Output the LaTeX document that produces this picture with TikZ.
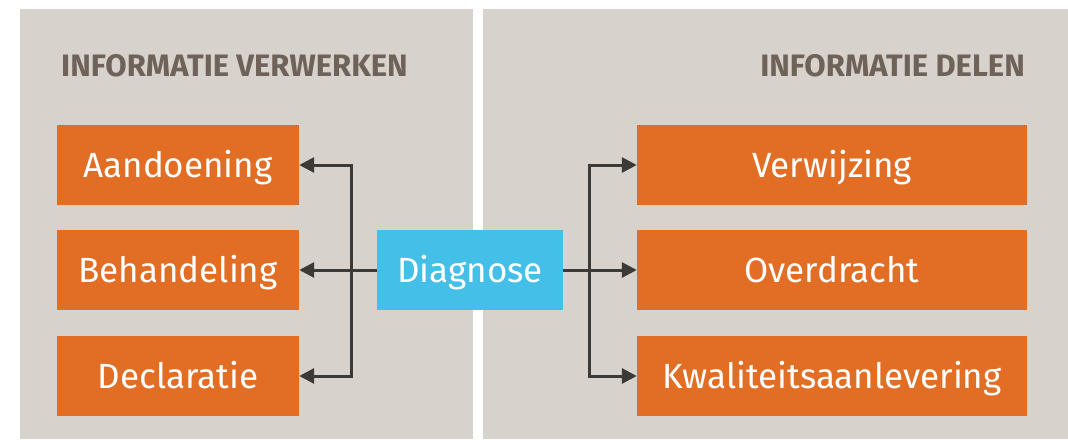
\documentclass[tikz,border=0pt]{standalone}
\usepackage{fontspec}
\setmainfont{Fira Sans}
\usepackage{tikz}
\usetikzlibrary{calc,positioning,arrows.meta}

\definecolor{panelgrey}{HTML}{D7D2CC}
\definecolor{boxorange}{HTML}{E26D24}
\definecolor{diagblue}{HTML}{44BFE8}
\definecolor{linedark}{HTML}{3C3A36}
\definecolor{titlebrown}{HTML}{6E6259}

\tikzset{
	panel/.style={fill=panelgrey, draw=none},
	infobox/.style={fill=boxorange, text=white, inner sep=0pt, minimum height=80pt, text height=24pt, text depth=0pt, font=\fontsize{35}{40}\selectfont},
	title/.style={text=titlebrown, inner sep=0pt, font=\fontsize{31}{36}\selectfont\bfseries},
	arr/.style={draw=linedark, line width=3pt, -{Triangle[length=15pt,width=15pt]}}
}

\begin{document}
\begin{tikzpicture}[x=1pt,y=-1pt]
		\useasboundingbox (0,0) rectangle (1068,439);
		\fill[white] (0,0) rectangle (1068,439);
		\fill[panel] (20,9) rectangle (473,439);
		\fill[panel] (483,9) rectangle (1068,439);

		\node[title, anchor=base west] (lefttitle) at (61,76) {INFORMATIE VERWERKEN};
		\node[title, anchor=base east] (righttitle) at (1025,76) {INFORMATIE DELEN};

		\node[infobox, minimum width=242pt] (aand) at (178,165) {Aandoening};
		\node[infobox, minimum width=242pt] (beh) at (178,270) {Behandeling};
		\node[infobox, minimum width=242pt] (decl) at (178,376) {Declaratie};

		\node[infobox, minimum width=390pt] (verw) at (832,165) {Verwijzing};
		\node[infobox, minimum width=390pt] (overd) at (832,270) {Overdracht};
		\node[infobox, minimum width=390pt] (kwal) at (832,376) {Kwaliteitsaanlevering};

		\node[infobox, fill=diagblue, minimum width=186pt] (diag) at (470,270) {Diagnose};

		\coordinate (lsplit) at (351,270);
		\coordinate (rsplit) at (589,270);

		\draw[arr] (diag.west) -- (beh.east);
		\draw[arr] (lsplit) |- (aand.east);
		\draw[arr] (lsplit) |- (decl.east);

		\draw[arr] (diag.east) -- (overd.west);
		\draw[arr] (rsplit) |- (verw.west);
		\draw[arr] (rsplit) |- (kwal.west);
	\end{tikzpicture}
\end{document}
